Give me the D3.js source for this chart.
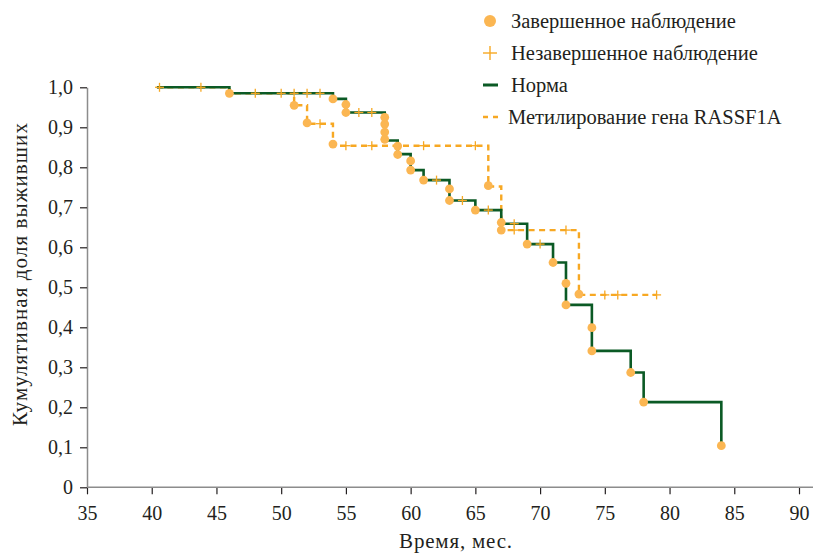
<!DOCTYPE html>
<html>
<head>
<meta charset="utf-8">
<script src="https://d3js.org/d3.v7.min.js"></script>
<style>
  body { margin: 0; background: #ffffff; }
  svg text { font-family: "Liberation Serif", "Times New Roman", serif; fill: #231f20; }
  .axis text { font-size: 20px; }
  .axis line { stroke: #231f20; stroke-width: 1.2px; }
  .axis path { stroke: #8c8c8c; stroke-width: 1.5px; }
  .legend text { font-size: 20.5px; }
  .title { font-size: 21px; }
</style>
</head>
<body>
<div id="chart"></div>
<script>
// ticks
const xTicks = [35, 40, 45, 50, 55, 60, 65, 70, 75, 80, 85, 90];
const yTicks = [0, 0.1, 0.2, 0.3, 0.4, 0.5, 0.6, 0.7, 0.8, 0.9, 1.0];
const yTickLabels = ["0", "0,1", "0,2", "0,3", "0,4", "0,5", "0,6", "0,7", "0,8", "0,9", "1,0"];

// Норма: step curve
const normaTimes = [40.4, 46, 54, 55, 58, 59, 60, 61, 63, 65, 67, 69, 71, 72, 74, 77, 78, 84];
const normaSurv  = [1, 0.985, 0.971, 0.937, 0.867, 0.833, 0.793, 0.768, 0.717, 0.693, 0.659, 0.608, 0.562, 0.456, 0.341, 0.287, 0.213, 0.104];
// Норма: completed observations (circles)
const normaEventT = [46, 54, 55, 55, 58, 58, 58, 58, 59, 59, 60, 60, 61, 63, 63, 65, 67, 69, 71, 72, 72, 74, 74, 77, 78, 84];
const normaEventS = [0.985, 0.971, 0.957, 0.937, 0.925, 0.908, 0.888, 0.870, 0.853, 0.832, 0.816, 0.793, 0.768, 0.746, 0.717, 0.693, 0.662, 0.608, 0.562, 0.510, 0.456, 0.399, 0.341, 0.287, 0.213, 0.104];
// Норма: censored (+)
const normaCensT = [40.6, 43.8, 48, 50, 51, 52, 53, 56, 57, 62, 64, 66, 68, 70];

// Метилирование гена RASSF1A
const rassfTimes = [40.4, 46, 51, 52, 54, 66, 67, 73, 79];
const rassfSurv  = [1, 0.985, 0.955, 0.909, 0.854, 0.752, 0.643, 0.481, 0.481];
const rassfEventT = [51, 52, 54, 66, 67, 73];
const rassfEventS = [0.955, 0.911, 0.858, 0.754, 0.643, 0.483];
const rassfCensT = [53, 55, 57, 61, 65, 68, 72, 75, 76, 79];

const green = "#0b5a25";
const orange = "#f7a823";
const dotFill = "#fbb652";

const svg = d3.select("#chart")
  .append("svg")
  .attr("width", 814)
  .attr("height", 554);

const x = d3.scaleLinear().domain([35, 90]).range([87, 799]);
const y = d3.scaleLinear().domain([0, 1]).range([487.3, 87.3]);

// step value lookup
function survAt(times, surv, t) {
  let s = surv[0];
  for (let i = 0; i < times.length; i++) {
    if (times[i] <= t) s = surv[i];
  }
  return s;
}

// axes
const xAxis = svg.append("g")
  .attr("class", "axis")
  .attr("transform", `translate(0, ${y(0)})`)
  .call(d3.axisBottom(x).tickValues(xTicks).tickSize(7).tickPadding(12).tickSizeOuter(0));
xAxis.select(".domain").remove();
xAxis.append("line")
  .attr("x1", x(35)).attr("x2", 813)
  .attr("y1", 0).attr("y2", 0)
  .style("stroke", "#8c8c8c").style("stroke-width", 1.5);

const yAxis = svg.append("g")
  .attr("class", "axis")
  .attr("transform", `translate(${x(35)}, 0)`)
  .call(d3.axisLeft(y).tickValues(yTicks).tickSize(7).tickPadding(7).tickSizeOuter(0)
    .tickFormat((d, i) => yTickLabels[i]));

// axis titles
svg.append("text")
  .attr("class", "title")
  .attr("x", 456).attr("y", 548)
  .attr("text-anchor", "middle")
  .style("letter-spacing", "0.8px")
  .text("Время, мес.");
svg.append("text")
  .attr("class", "title")
  .attr("transform", "translate(27, 274) rotate(-90)")
  .attr("text-anchor", "middle")
  .style("letter-spacing", "1.1px")
  .text("Кумулятивная доля выживших");

const line = d3.line()
  .x(d => x(d[0]))
  .y(d => y(d[1]))
  .curve(d3.curveStepAfter);

// RASSF1A dashed curve (under green)
svg.append("path")
  .datum(rassfTimes.map((t, i) => [t, rassfSurv[i]]))
  .attr("d", line)
  .attr("fill", "none")
  .attr("stroke", orange)
  .attr("stroke-width", 2.4)
  .attr("stroke-dasharray", "6,4.5");

// Норма curve
svg.append("path")
  .datum(normaTimes.map((t, i) => [t, normaSurv[i]]))
  .attr("d", line)
  .attr("fill", "none")
  .attr("stroke", green)
  .attr("stroke-width", 2.6);

// censored marks
function plus(g, cx, cy, size, w) {
  g.append("line").attr("x1", cx - size).attr("x2", cx + size).attr("y1", cy).attr("y2", cy)
    .attr("stroke", orange).attr("stroke-width", w);
  g.append("line").attr("x1", cx).attr("x2", cx).attr("y1", cy - size).attr("y2", cy + size)
    .attr("stroke", orange).attr("stroke-width", w);
}
const cens = svg.append("g");
normaCensT.forEach(t => plus(cens, x(t), y(survAt(normaTimes, normaSurv, t)), 4.5, 1.3));
rassfCensT.forEach(t => plus(cens, x(t), y(survAt(rassfTimes, rassfSurv, t)), 4.5, 1.3));

// completed observations
svg.selectAll("circle.norma")
  .data(normaEventT.map((t, i) => [t, normaEventS[i]]))
  .join("circle")
    .attr("class", "norma")
    .attr("cx", d => x(d[0]))
    .attr("cy", d => y(d[1]))
    .attr("r", 4.4)
    .style("fill", dotFill);
svg.selectAll("circle.rassf")
  .data(rassfEventT.map((t, i) => [t, rassfEventS[i]]))
  .join("circle")
    .attr("class", "rassf")
    .attr("cx", d => x(d[0]))
    .attr("cy", d => y(d[1]))
    .attr("r", 4.4)
    .style("fill", dotFill);

// legend
const legend = svg.append("g").attr("class", "legend");
const legendLabels = ["Завершенное наблюдение", "Незавершенное наблюдение", "Норма", "Метилирование гена RASSF1A"];
const legendY = [21, 53, 85, 117];
const legendX = [511, 511, 511, 508];
legendLabels.forEach((lab, i) => {
  legend.append("text")
    .attr("x", legendX[i]).attr("y", legendY[i] + 7)
    .text(lab);
});
legend.append("circle").attr("cx", 490).attr("cy", legendY[0]).attr("r", 6).style("fill", dotFill);
plus(legend, 490, legendY[1], 7, 1.4);
legend.append("line").attr("x1", 483).attr("x2", 498).attr("y1", legendY[2]).attr("y2", legendY[2])
  .attr("stroke", green).attr("stroke-width", 3);
legend.append("line").attr("x1", 483).attr("x2", 498).attr("y1", legendY[3]).attr("y2", legendY[3])
  .attr("stroke", orange).attr("stroke-width", 2.4).attr("stroke-dasharray", "5,5");
</script>
</body>
</html>
